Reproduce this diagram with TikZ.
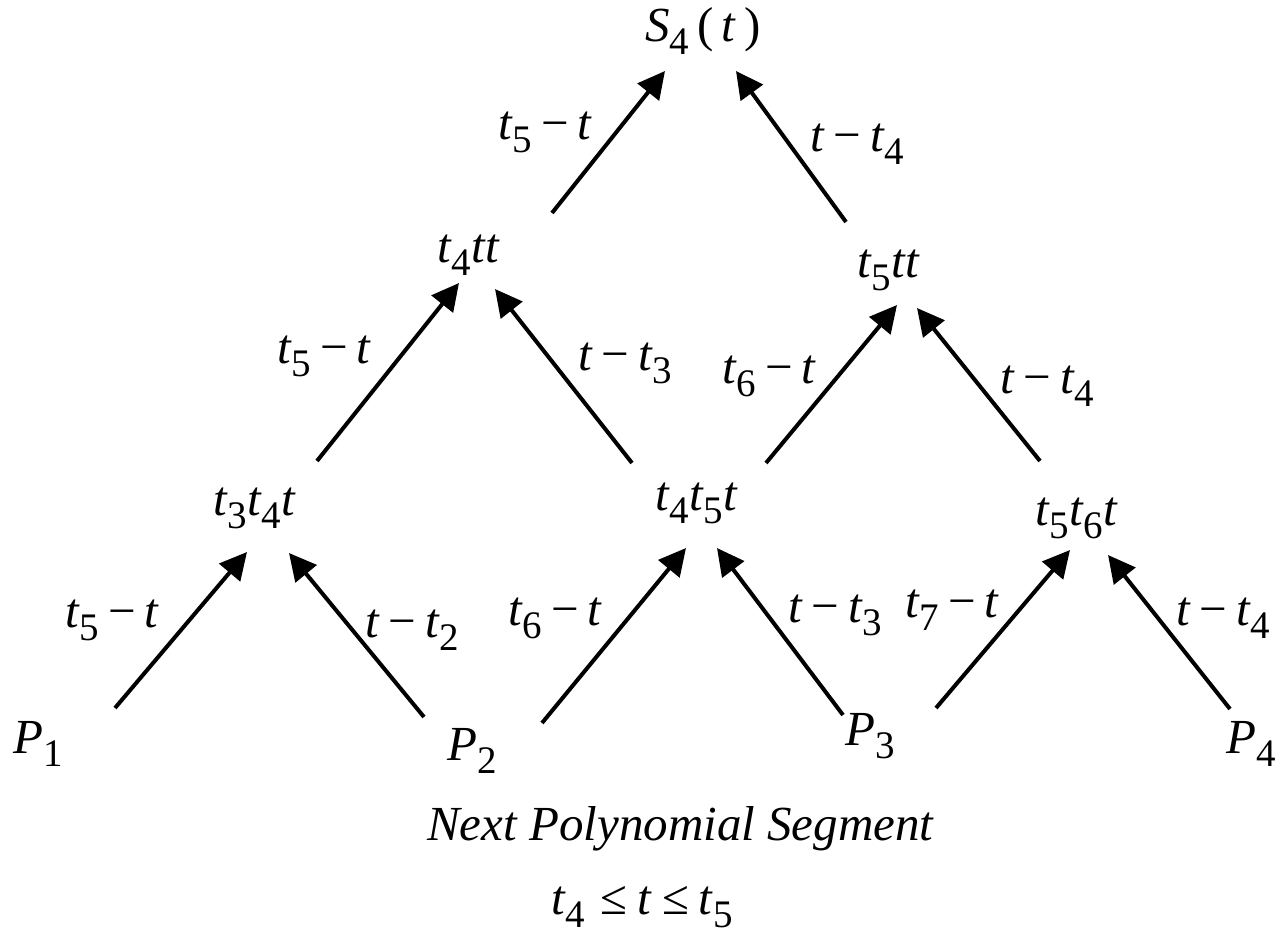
\documentclass[tikz,border=0pt]{standalone}
\usepackage{fontspec}
\setmainfont{Liberation Serif}
\usetikzlibrary{arrows.meta}
\newcommand\vt{\textit{t}}
\newcommand\subd[1]{\raisebox{-13pt}{\fontsize{39}{39}\selectfont #1}}
\newcommand\gap{\hspace{0.18em}}
\newcommand\mn{\gap−\gap}
\tikzset{
  txt/.style={inner sep=0pt, anchor=base west, font=\fontsize{49}{52}\selectfont},
  arr/.style={line width=4pt, -{Triangle[length=27pt,width=27pt]}}
}
\begin{document}
\begin{tikzpicture}[x=1pt,y=-1pt]
\useasboundingbox (0,0) rectangle (1281,933);
% tree nodes
\node[txt] (S) at (645,42) {\textit{S}\subd{4}\,(\,\vt\,)};
\node[txt] (A) at (437,262) {\vt\subd{4}\vt\vt};
\node[txt] (B) at (857,277) {\vt\subd{5}\vt\vt};
\node[txt] (C) at (213,515) {\vt\subd{3}\vt\subd{4}\vt};
\node[txt] (D) at (655,510) {\vt\subd{4}\vt\subd{5}\vt};
\node[txt] (E) at (1035,525) {\vt\subd{5}\vt\subd{6}\vt};
\node[txt] (P1) at (13,753) {\textit{P}\subd{1}};
\node[txt] (P2) at (447,760) {\textit{P}\subd{2}};
\node[txt] (P3) at (845,745) {\textit{P}\subd{3}};
\node[txt] (P4) at (1226,753) {\textit{P}\subd{4}};
% edge labels
\node[txt] (l1) at (498,140) {\vt\subd{5}\mn\vt};
\node[txt] (l2) at (810,152) {\vt\mn\vt\subd{4}};
\node[txt] (l3) at (277,363) {\vt\subd{5}\mn\vt};
\node[txt] (l4) at (578,370) {\vt\mn\vt\subd{3}};
\node[txt] (l5) at (722,383) {\vt\subd{6}\mn\vt};
\node[txt] (l6) at (1000,393) {\vt\mn\vt\subd{4}};
\node[txt] (l7) at (65,627) {\vt\subd{5}\mn\vt};
\node[txt] (l8) at (365,637) {\vt\mn\vt\subd{2}};
\node[txt] (l9) at (508,625) {\vt\subd{6}\mn\vt};
\node[txt] (l10) at (788,622) {\vt\mn\vt\subd{3}};
\node[txt] (l11) at (905,617) {\vt\subd{7}\mn\vt};
\node[txt] (l12) at (1176,625) {\vt\mn\vt\subd{4}};
% captions
\node[txt] (cap) at (427,840) {\textit{Next Polynomial Segment}};
\node[txt] (rng) at (551,914) {\vt\subd{4}\hspace{0.3em}≤\hspace{0.22em}\vt\hspace{0.2em}≤\hspace{0.2em}\vt\subd{5}};
% arrow end points
\coordinate (a1s) at (552,213); \coordinate (a1e) at (665,71);
\coordinate (a2s) at (846,222); \coordinate (a2e) at (736,71);
\coordinate (b1s) at (317,461); \coordinate (b1e) at (459,283);
\coordinate (b2s) at (632,463); \coordinate (b2e) at (495,289);
\coordinate (b3s) at (766,463); \coordinate (b3e) at (897,305);
\coordinate (b4s) at (1040,461); \coordinate (b4e) at (917,308);
\coordinate (c1s) at (115,708); \coordinate (c1e) at (247,552);
\coordinate (c2s) at (424,717); \coordinate (c2e) at (289,553);
\coordinate (c3s) at (542,723); \coordinate (c3e) at (686,548);
\coordinate (c4s) at (843,715); \coordinate (c4e) at (717,548);
\coordinate (c5s) at (936,708); \coordinate (c5e) at (1070,550);
\coordinate (c6s) at (1230,709); \coordinate (c6e) at (1108,555);
\foreach \n in {a1,a2,b1,b2,b3,b4,c1,c2,c3,c4,c5,c6}
  \draw[arr] (\n s) -- (\n e);
\end{tikzpicture}
\end{document}
